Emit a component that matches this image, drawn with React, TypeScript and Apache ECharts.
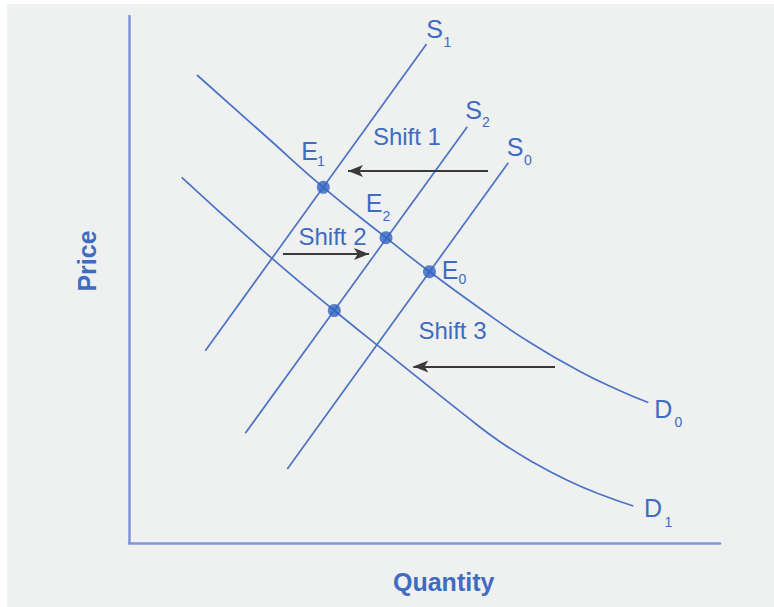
import { useEffect, useRef } from "react";
import * as echarts from "echarts";

// Supply curves [quantity, price]
const supplyS1 = [
  [7.63, 19.22],
  [29.75, 49.9],
];
const supplyS2 = [
  [11.63, 10.97],
  [33.83, 41.63],
];
const supplyS0 = [
  [15.83, 7.4],
  [37.93, 38.03],
];

// Demand curves
const demandD0 = [
  [6.8, 46.8],
  [14.1, 40.3],
  [19.43, 35.57],
  [25.7, 30.53],
  [30.05, 27.13],
  [35.1, 23.45],
  [40.1, 20.05],
  [45.1, 17.15],
  [49.1, 15.23],
  [51.93, 14.05],
];
const demandD1 = [
  [5.27, 36.57],
  [14.1, 28.63],
  [20.53, 23.25],
  [27.1, 17.97],
  [33.77, 12.63],
  [37.1, 10.13],
  [40.43, 8.06],
  [43.77, 6.3],
  [47.1, 4.87],
  [50.43, 3.7],
];

// Equilibrium points: E1, E2, E0, unlabeled
const equilibria = [
  [19.43, 35.57],
  [25.7, 30.53],
  [30.05, 27.13],
  [20.53, 23.25],
];

// Shift arrows
const shiftNames = ["Shift 1", "Shift 2", "Shift 3"];
const shiftFrom = [
  [35.9, 37.2],
  [15.4, 28.9],
  [42.6, 17.65],
];
const shiftTo = [
  [21.9, 37.2],
  [24.0, 28.9],
  [28.43, 17.65],
];

const axisMaxX = 59.1;
const axisMaxY = 52.7;

const BLUE = "#4a73c6";
const TEXT = "#3f6cc0";
const FONT = "'Liberation Sans', Arial, Helvetica, sans-serif";

function subLabel(main: string, sub: string, mx: number, my: number, sx: number, sy: number, size = 25) {
  return [
    {
      type: "text",
      x: mx,
      y: my,
      z: 10,
      style: { text: main, fill: TEXT, font: `${size}px ${FONT}`, textAlign: "center", textVerticalAlign: "middle" },
    },
    {
      type: "text",
      x: sx,
      y: sy,
      z: 10,
      style: { text: sub, fill: TEXT, font: `14px ${FONT}`, textAlign: "center", textVerticalAlign: "middle" },
    },
  ];
}

export default function App() {
  const ref = useRef<HTMLDivElement>(null);

  useEffect(() => {
    if (!ref.current) return;
    const chart = echarts.init(ref.current, undefined, { renderer: "svg" });

    const lineSeries = (name: string, data: number[][], smooth: boolean) => ({
      name,
      type: "line",
      data,
      smooth: smooth ? 0.5 : false,
      symbol: "none",
      lineStyle: { color: BLUE, width: 1.7 },
      silent: true,
      z: 2,
    });

    const shiftPos = [
      [406.9, 136.7],
      [332.5, 236.7],
      [452.5, 330],
    ];

    const graphics: any[] = [
      {
        type: "rect",
        shape: { x: 7, y: 4, width: 767, height: 603 },
        style: { fill: "#eff0f0" },
        z: -10,
        silent: true,
      },
      ...subLabel("S", "1", 434.5, 28.5, 447.5, 42),
      ...subLabel("S", "2", 473.5, 110, 486, 121.5),
      ...subLabel("S", "0", 515, 147, 528, 160),
      ...subLabel("E", "1", 309.7, 151, 321, 161),
      ...subLabel("E", "2", 374, 203.3, 386.5, 215.5),
      ...subLabel("E", "0", 450, 270, 462.5, 278.5),
      ...subLabel("D", "0", 663.3, 408.8, 678.5, 421.5),
      ...subLabel("D", "1", 653, 508.3, 668.5, 522),
      ...shiftNames.map((t, i) => ({
        type: "text",
        x: shiftPos[i][0],
        y: shiftPos[i][1],
        z: 10,
        style: { text: t, fill: TEXT, font: `24px ${FONT}`, textAlign: "center", textVerticalAlign: "middle" },
      })),
      {
        type: "text",
        x: 443.7,
        y: 581.7,
        z: 10,
        style: { text: "Quantity", fill: TEXT, font: `bold 25px ${FONT}`, textAlign: "center", textVerticalAlign: "middle" },
      },
      {
        type: "text",
        x: 86.7,
        y: 261,
        rotation: Math.PI / 2,
        z: 10,
        style: { text: "Price", fill: TEXT, font: `bold 25px ${FONT}`, textAlign: "center", textVerticalAlign: "middle" },
      },
    ];

    chart.setOption({
      animation: false,
      backgroundColor: "#ffffff",
      grid: { left: 129, top: 16, width: 591, height: 527 },
      xAxis: {
        type: "value",
        min: 0,
        max: axisMaxX,
        axisLine: { show: true, lineStyle: { color: "#8293d8", width: 2.5 } },
        axisTick: { show: false },
        axisLabel: { show: false },
        splitLine: { show: false },
      },
      yAxis: {
        type: "value",
        min: 0,
        max: axisMaxY,
        axisLine: { show: true, lineStyle: { color: "#8293d8", width: 2.5 } },
        axisTick: { show: false },
        axisLabel: { show: false },
        splitLine: { show: false },
      },
      series: [
        lineSeries("S1", supplyS1, false),
        lineSeries("S2", supplyS2, false),
        lineSeries("S0", supplyS0, false),
        lineSeries("D0", demandD0, true),
        lineSeries("D1", demandD1, true),
        {
          name: "Equilibria",
          type: "scatter",
          data: equilibria,
          symbol: "circle",
          symbolSize: 13,
          itemStyle: { color: "#2f62c0" },
          silent: true,
          z: 5,
        },
        {
          name: "Shifts",
          type: "line",
          data: [],
          silent: true,
          markLine: {
            silent: true,
            symbol: ["none", "arrow"],
            symbolSize: [9, 15],
            label: { show: false },
            lineStyle: { color: "#3a3a3a", width: 2, type: "solid" },
            data: shiftFrom.map((f, i) => [{ coord: f }, { coord: shiftTo[i] }]),
          },
          z: 4,
        },
      ],
      graphic: graphics,
    });

    return () => chart.dispose();
  }, []);

  return (
    <div
      ref={ref}
      style={{ position: "fixed", left: 0, top: 0, width: 774, height: 607 }}
    />
  );
}
